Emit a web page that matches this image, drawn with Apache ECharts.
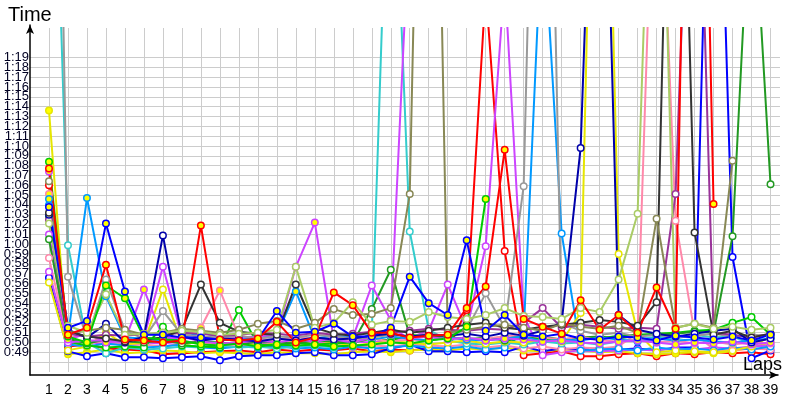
<!DOCTYPE html>
<html><head><meta charset="utf-8">
<script src="https://cdn.jsdelivr.net/npm/echarts@6/dist/echarts.min.js"></script>
<style>html,body{margin:0;padding:0;background:#fff}#c{width:800px;height:400px}</style>
</head><body><div id="c"></div>
<script>
const laps = [1,2,3,4,5,6,7,8,9,10,11,12,13,14,15,16,17,18,19,20,21,22,23,24,25,26,27,28,29,30,31,32,33,34,35,36,37,38,39];
const yLabelFirst = 49, yLabelLast = 79; // tick labels 0:49 ... 1:19

const blueW = [56.6,49.1,48.6,48.9,48.5,48.5,48.4,48.5,48.6,48.2, 48.6,48.7,48.7,48.9,49.0,48.7,48.7,48.8,49.4,49.8, 49.1,49.1,49.0,49.1,49.0,49.6,49.1,49.4,49.3,49.4, 49.3,49.4,49.2,49.5,49.5,123,58.7,48.4,49.2];
const blueY = [63.8,51.5,52.2,62.1,55.2,50.8,50.8,50.5,50.5,50.3, 50.2,50.3,53.2,51.0,51.1,51.9,50.6,50.6,51.5,56.7, 54.0,52.8,60.4,51.2,52.8,50.8,50.6,50.9,50.4,50.3, 50.6,50.5,50.2,50.7,50.5,50.3,50.6,50.2,50.8];
const darkBlueW = [63.0,51.3,50.5,51.9,50.0,50.6,60.9,50.6,50.2,50.4, 50.3,50.1,50.4,50.2,50.5,50.3,50.4,50.7,50.9,50.6, 50.8,50.7,50.9,50.6,51.0,50.7,51.2,52.0,69.8,125, 52.8,51.3,50.9,50.6,50.9,51.2,51.4,50.0,50.4];
const redY = [67.7,50.8,51.5,57.9,50.3,50.2,50.0,50.2,61.9,50.3, 50.2,50.4,52.1,50.0,50.5,55.1,53.8,51.0,51.0,50.5, 50.7,50.8,53.5,55.7,69.6,52.4,51.6,50.9,54.3,51.3, 52.8,51.0,55.6,51.4,155,64.1,null,null,null];
const redW = [66.0,49.6,49.8,49.4,49.3,49.2,48.8,48.9,49.0,49.1, 49.2,49.0,49.3,49.1,49.3,49.2,49.4,49.1,49.3,49.2, 49.4,49.3,53.3,86,59.3,48.7,48.9,49.1,48.6,48.6, 48.8,48.9,48.6,48.9,48.8,49.0,48.9,49.0,48.8];
const magentaY = [67.4,50.3,50.9,50.0,50.2,55.4,50.5,50.4,50.5,50.3, 50.5,50.6,50.8,57.7,62.2,50.3,50.0,50.5,51.5,50.4, 50.6,50.3,50.5,50.2,50.4,50.3,50.1,50.2,50.0,49.9, 50.1,50.2,50.0,49.8,50.0,49.9,50.1,49.8,50.0];
const magentaW = [57.2,50.0,50.2,50.2,50.0,50.5,57.7,50.6,50.1,49.9, 50.0,50.2,50.0,50.3,50.1,50.4,50.5,55.8,52.3,94, null,null,null,null,null,null,null,null,null,null, null,null,null,null,null,null,null,null,null];
const magenta2W = [61.0,49.9,50.1,49.8,49.9,50.0,49.9,50.1,50.0,49.8, 49.9,50.0,49.8,50.0,49.9,50.2,50.1,50.0,50.3,50.5, 51.2,55.9,51.3,59.8,87,52.7,48.7,49.0,49.2,49.1, 49.2,49.3,49.2,49.4,49.3,49.5,49.4,49.6,49.7];
const greenY = [68.4,50.6,50.0,55.8,54.5,50.5,50.3,50.2,49.8,49.7, 49.9,49.6,49.8,49.7,49.8,49.6,49.7,49.8,50.0,49.9, 50.2,50.4,51.6,64.6,null,null,null,null,null,null, null,null,null,null,null,null,null,null,null];
const greenW = [62.8,50.1,49.7,49.5,49.6,49.5,51.6,49.7,49.6,49.5, 53.3,49.8,49.7,50.0,49.8,49.9,50.0,50.4,50.2,50.8, 50.6,50.5,50.4,50.3,50.6,50.5,50.4,50.2,50.5,50.4, 50.7,50.8,50.9,51.0,51.2,51.3,52.0,52.6,50.8];
const darkGreenW = [60.5,50.4,49.9,50.3,50.1,50.0,50.2,49.9,50.1,50.0, 49.8,50.1,50.0,49.9,50.2,50.1,50.0,53.4,57.4,50.7, 50.5,50.6,50.3,50.5,50.2,50.4,50.6,50.3,50.5,50.6, 50.4,50.7,50.8,50.9,51.1,51.0,60.8,99,66.1];
const lightGreenW = [62.1,51.7,51.0,54.9,50.8,50.9,51.0,51.2,51.1,50.8, 50.9,51.0,51.3,57.7,51.5,52.0,54.1,51.8,52.2,52.1, 53.1,52.6,52.4,52.8,53.5,52.7,52.6,52.4,53.5,53.1, 56.4,63.1,122,51.5,51.9,51.4,51.6,51.3,51.5];
const oliveW = [66.4,51.0,51.2,51.5,51.3,50.8,51.0,51.4,51.2,51.0, 51.3,51.9,52.2,51.4,52.0,53.4,52.8,52.9,53.5,65.1, 155,51.0,51.3,51.6,51.8,51.5,51.2,51.9,51.6,51.4, 51.7,51.0,62.6,51.5,51.9,51.5,68.5,null,null];
const greyW = [164,56.7,50.3,56.4,51.2,50.4,53.2,50.8,50.6,50.5, 50.7,50.4,50.6,50.5,50.8,50.6,50.4,50.5,50.8,50.6, 50.9,50.7,51.3,55.0,51.5,65.9,145,52.0,51.2,50.8, 51.0,50.6,50.8,50.5,50.7,50.9,50.6,50.8,50.7];
const blackW = [63.2,51.2,50.6,50.4,50.1,50.3,50.5,51.3,55.9,52.0, 51.1,50.9,50.8,55.9,51.5,50.9,50.7,51.0,51.3,51.0, 51.2,51.5,51.8,52.0,51.5,51.3,51.6,51.8,52.0,52.3, 52.1,51.7,54.1,135,61.2,50.8,51.2,50.5,50.9];
const pinkY = [65.1,50.5,50.8,50.3,50.1,50.4,50.3,50.5,51.5,55.3, 50.6,50.4,50.2,50.6,50.3,50.5,50.2,50.4,50.1,50.3, 50.2,50.5,50.3,50.4,50.6,50.8,50.5,50.3,50.6,50.2, 50.1,50.3,50.0,50.2,49.9,50.1,49.8,50.0,49.9];
const pinkW = [58.6,50.2,50.0,50.1,49.7,49.8,49.6,49.9,50.0,49.7, 49.6,49.8,49.5,49.7,49.6,49.8,49.5,49.7,49.6,49.8, 49.7,49.6,49.8,49.5,49.7,49.4,49.6,49.3,49.5,49.4, 49.6,51.0,110,62.4,51.0,49.3,49.2,49.4,49.3];
const lightBlueY = [64.6,50.7,64.7,54.7,50.5,50.4,50.2,50.5,51.0,50.6, 50.3,50.5,50.8,55.2,50.4,50.7,50.5,50.3,50.6,50.4, 50.2,50.5,50.3,50.2,50.4,50.6,50.1,50.3,50.2,50.5, 50.3,50.1,50.4,50.2,50.3,50.1,50.0,50.2,50.4];
const lightBlueW = [64.0,49.8,49.6,49.9,49.7,49.5,49.6,49.8,49.5,49.4, 49.6,49.5,49.7,49.4,49.5,49.3,49.6,49.4,49.5,49.7, 49.5,49.4,49.6,49.3,49.5,51.0,94,61.1,49.2,49.3, 49.4,49.2,49.5,49.3,49.4,49.2,49.5,49.3,49.6];
const cyanW = [122,59.9,50.0,48.9,49.5,49.3,49.4,49.6,49.5,49.7, 49.5,49.6,49.4,49.6,49.7,49.5,49.8,51.0,109.5,61.3, 51.3,50.2,49.9,49.8,50.0,49.8,50.1,49.9,50.0,49.8, 50.1,50.3,50.6,50.4,50.8,50.5,50.6,49.9,50.5];
const yellowY = [73.6,48.8,49.0,49.3,48.9,49.0,49.2,49.1,48.9,49.0, 48.9,48.8,49.0,48.9,48.9,48.8,49.0,49.1,49.0,49.2, 49.3,49.2,49.4,49.3,49.5,49.2,49.1,49.3,49.2,49.0, 49.1,48.9,48.8,48.9,49.0,48.9,49.1,49.5,50.0];
const yellowW = [56.1,49.2,49.6,51.0,49.8,50.0,55.4,49.8,50.1,49.9, 50.0,49.7,49.9,50.1,49.8,50.0,49.7,49.9,50.1,50.0, 49.8,50.0,50.2,49.9,50.1,50.0,50.3,50.1,53.0,140, 59.0,51.0,49.0,49.2,49.1,49.0,49.2,49.6,50.6];
const purpleW = [62.5,50.9,50.6,50.8,50.7,50.9,50.8,51.0,50.9,50.7, 50.8,51.0,50.9,50.7,51.0,50.8,50.9,51.1,51.0,51.2, 51.4,51.3,51.2,51.4,51.3,52.0,53.5,51.5,51.8,51.6, 51.4,51.5,51.4,65.1,118,51.0,50.8,50.5,50.9];

// [values, line colour, marker fill]
const seriesDefs = [
  [redW,'#ff0000','#ffffff'],
  [yellowY,'#e6e600','#ffff00'],
  [blueW,'#0000ff','#ffffff'],
  [magenta2W,'#cc44ff','#ffffff'],
  [pinkW,'#ff88aa','#ffffff'],
  [lightBlueW,'#0099ff','#ffffff'],
  [cyanW,'#33cccc','#ffffff'],
  [yellowW,'#e6e600','#ffffff'],
  [greenW,'#00cc00','#ffffff'],
  [darkGreenW,'#229922','#ffffff'],
  [pinkY,'#ff88aa','#ffff00'],
  [lightBlueY,'#0099ff','#ffff00'],
  [magentaW,'#cc44ff','#ffffff'],
  [magentaY,'#cc44ff','#ffff00'],
  [greyW,'#999999','#ffffff'],
  [purpleW,'#993399','#ffffff'],
  [darkBlueW,'#0000aa','#ffffff'],
  [blackW,'#333333','#ffffff'],
  [oliveW,'#888855','#ffffff'],
  [lightGreenW,'#aacc66','#ffffff'],
  [greenY,'#00cc00','#ffff00'],
  [blueY,'#0000ff','#ffff00'],
  [redY,'#ff0000','#ffff00']
];

function fmt(v){
  const m = Math.floor(v/60), s = Math.round(v - m*60);
  return m + ':' + (s<10?'0':'') + s;
}

// horizontal grid lines only from 0:48 to 1:19 (ticks 47..82)
const yGridColors = [];
for (let v = 47; v <= 82; v++) yGridColors.push(v >= 48 && v <= 79 ? '#cccccc' : 'rgba(0,0,0,0)');

const chart = echarts.init(document.getElementById('c'), null, {renderer:'canvas'});
chart.setOption({
  animation: false,
  backgroundColor: '#ffffff',
  grid: [
    {left: 30, right: 20, top: 28, bottom: 28, containLabel: false},
    {left: 30, right: 22, top: 25, bottom: 25, containLabel: false}
  ],
  xAxis: [{
    gridIndex: 0, type: 'value', min: 0, max: 39.5, interval: 1,
    offset: 3,
    axisLine: {show: false},
    axisTick: {show: false},
    axisLabel: {
      margin: 8, color: '#000', fontFamily: 'Liberation Sans', fontSize: 14,
      formatter: v => (v >= 1 && v <= 39 && Math.abs(v - Math.round(v)) < 1e-6) ? String(Math.round(v)) : ''
    },
    splitLine: {show: true, showMinLine: false, showMaxLine: false, lineStyle: {color: '#cccccc', width: 1}}
  },{
    gridIndex: 1, type: 'value', min: 0, max: 1,
    axisLine: {show: true, symbol: ['none','arrow'], symbolSize: [6, 9], lineStyle: {color: '#000', width: 1.5}},
    axisTick: {show: false}, axisLabel: {show: false}, splitLine: {show: false}
  }],
  yAxis: [{
    gridIndex: 0, type: 'value', min: 47, max: 82, interval: 1,
    axisLine: {show: false},
    axisTick: {show: false},
    axisLabel: {
      margin: 1, color: '#000022', fontFamily: 'Liberation Sans', fontSize: 13,
      formatter: v => (v >= yLabelFirst && v <= yLabelLast) ? fmt(v) : ''
    },
    splitLine: {show: true, lineStyle: {color: yGridColors, width: 1}}
  },{
    gridIndex: 1, type: 'value', min: 0, max: 1,
    axisLine: {show: true, symbol: ['none','arrow'], symbolSize: [6, 9], lineStyle: {color: '#000', width: 1.5}},
    axisTick: {show: false}, axisLabel: {show: false}, splitLine: {show: false}
  }],
  graphic: [
    {type: 'text', left: 8, top: 5, style: {text: 'Time', fontFamily: 'Liberation Sans', fontSize: 20, fill: '#000'}},
    {type: 'text', left: 743, top: 356, z: 100, style: {text: 'Laps', fontFamily: 'Liberation Sans', fontSize: 18, fill: '#000'}}
  ],
  series: seriesDefs.map(([vals, col, fill]) => ({
    type: 'line',
    xAxisIndex: 0, yAxisIndex: 0,
    data: laps.map((l, i) => [l, vals[i]]),
    connectNulls: false,
    symbol: 'circle', symbolSize: 6.5, showAllSymbol: true,
    lineStyle: {color: col, width: 2},
    itemStyle: {color: fill, borderColor: col, borderWidth: 1.5},
    emphasis: {disabled: true},
    clip: true
  }))
});
</script></body></html>
